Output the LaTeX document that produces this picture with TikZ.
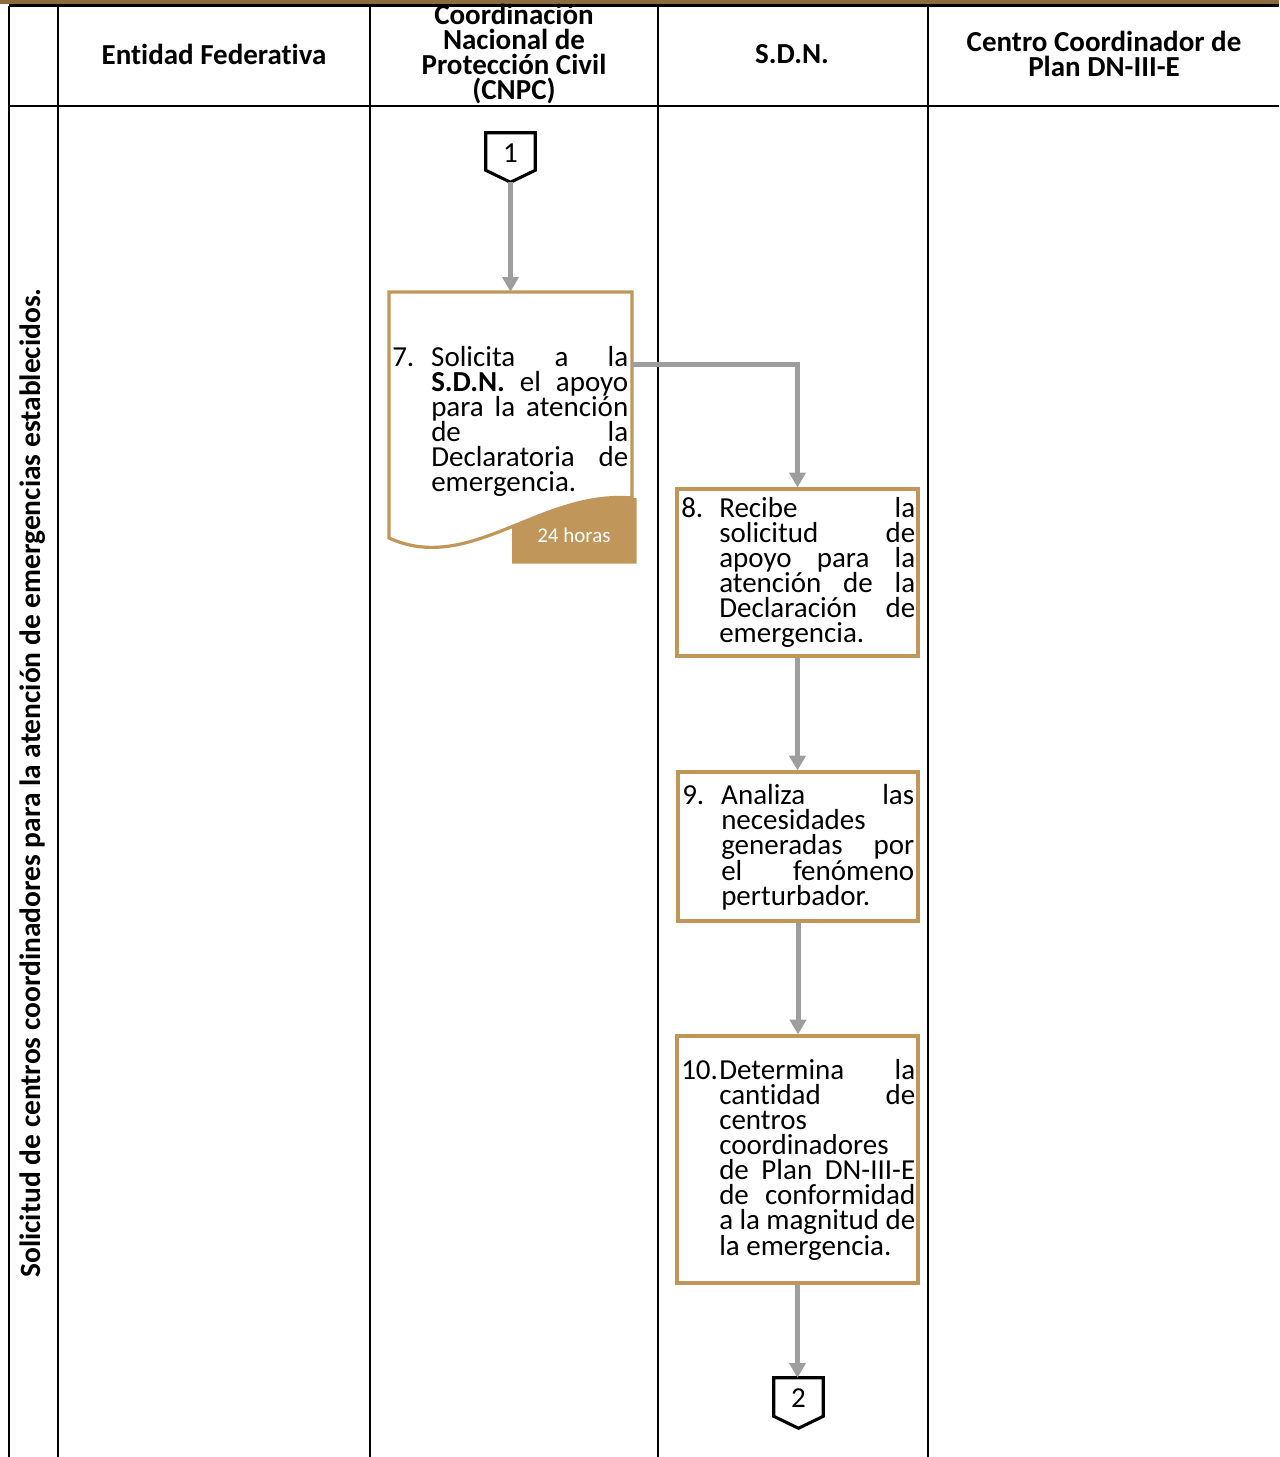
\documentclass[tikz,border=0pt]{standalone}
\usepackage{fontspec}
\setmainfont{Carlito}[Ligatures=NoCommon]
\usetikzlibrary{arrows.meta,calc}
\definecolor{boxtan}{RGB}{192,150,90}
\definecolor{barbrown}{RGB}{140,107,66}
\definecolor{linkgray}{RGB}{158,158,158}
\newcommand{\bodyfont}{\fontsize{21.75pt}{18.75pt}\selectfont}
\newcommand{\stepitem}[4]{\parbox[t]{#1}{\hyphenpenalty=10000\tolerance=10000\hbadness=10000\hfuzz=3pt\hangindent=#2\hangafter=1\noindent\makebox[#2][l]{#3}#4}}
\begin{document}
\begin{tikzpicture}[x=0.75pt,y=-0.75pt,
  lane/.style={line width=2pt,draw=black},
  procbox/.style={draw=boxtan,line width=2.4pt,fill=white,inner sep=0pt},
  ghost/.style={inner sep=0pt},
  flow/.style={draw=linkgray,line width=3.75pt,-{Triangle[length=11pt,width=12pt]}},
  offpage/.style={draw=black,line width=2.3pt,fill=white,line join=miter},
  head/.style={font=\bfseries\fontsize{21.75pt}{18.75pt}\selectfont,align=center,inner sep=0pt},
  steptext/.style={anchor=base west,inner sep=0pt,font=\bodyfont}]
\useasboundingbox (0,0) rectangle (1279,1457);
% top band and lane grid
\fill[barbrown] (0,0) rectangle (1279,4);
\draw[lane] (9,5.5) -- (1279,5.5);
\draw[lane] (9,106) -- (1279,106);
\foreach \xx in {9,58,370,658,928} \draw[lane] (\xx,5.5) -- (\xx,1457);
% headers
\node[head] (h1) at (214,54) {Entidad Federativa};
\node[head] (h2) at (514,54) {Coordinación\\Nacional de\\Protección Civil\\(CNPC)};
\node[head] (h3) at (792,54) {S.D.N.};
\node[head] (h4) at (1104,54) {Centro Coordinador de\\Plan DN-III-E};
\node[head,rotate=90,font=\bfseries\fontsize{22.1pt}{24pt}\selectfont] (lanelabel) at (33,783) {Solicitud de centros coordinadores para la atención de emergencias establecidos.};
% off-page connector 1
\node[ghost,minimum width=36.75pt,minimum height=27.75pt,font=\bodyfont] (c1) at (510.5,151.5) {};
\draw[offpage] (c1.north west) -- (c1.north east) -- (c1.south east) -- ($(c1.south)+(0,12)$) -- (c1.south west) -- cycle;
\node[ghost,font=\bodyfont] (c1t) at (510.5,153) {1};
\coordinate (c1tip) at ($(c1.south)+(0,12)$);
% step 7 (document shape)
\node[ghost,minimum width=182.25pt,minimum height=186pt] (b7) at (510.5,416) {};
\draw[draw=boxtan,line width=2.4pt,fill=white] (632,498) -- (632,292) -- (389,292) -- (389,538) .. controls (470,575) and (540,490) .. (632,498);
\begin{scope}
\clip (512,470) rectangle (640,570);
\fill[boxtan] (389,538) .. controls (470,575) and (540,490) .. (632,498) -- (636.5,498) -- (636.5,563.5) -- (389,563.5) -- cycle;
\end{scope}
\node[ghost,text=white,font=\fontsize{15.75pt}{18pt}\selectfont] (hrs) at (574,535) {24 horas};
\node[steptext] (t7) at (392,366) {\stepitem{177pt}{29.25pt}{7.}{Solicita a la\linebreak \textbf{S.D.N.} el apoyo\linebreak para la atención\linebreak de la\linebreak Declaratoria de\linebreak emergencia.}};
% step 8
\node[procbox,minimum width=180.75pt,minimum height=125.25pt] (b8) at (797.5,572.5) {};
\node[steptext] (t8) at (681,517) {\stepitem{175.5pt}{28.5pt}{8.}{Recibe la\linebreak solicitud de\linebreak apoyo para la\linebreak atención de la\linebreak Declaración de\linebreak emergencia.}};
% step 9
\node[procbox,minimum width=180pt,minimum height=111.75pt] (b9) at (798,846.5) {};
\node[steptext] (t9) at (682,804) {\stepitem{174pt}{29.25pt}{9.}{Analiza las\linebreak necesidades\linebreak generadas por\linebreak el fenómeno\linebreak perturbador.}};
% step 10
\node[procbox,minimum width=180.75pt,minimum height=185.25pt] (b10) at (797.5,1159.5) {};
\node[steptext] (t10) at (681,1079) {\stepitem{175.5pt}{28.5pt}{10.}{Determina la\linebreak cantidad de\linebreak centros\linebreak coordinadores\linebreak de Plan DN-III-E\linebreak de conformidad\linebreak a la magnitud de\linebreak la emergencia.}};
% off-page connector 2
\node[ghost,minimum width=36.75pt,minimum height=28.5pt] (c2) at (798.5,1397) {};
\draw[offpage] (c2.north west) -- (c2.north east) -- (c2.south east) -- ($(c2.south)+(0,12)$) -- (c2.south west) -- cycle;
\node[ghost,font=\bodyfont] (c2t) at (798.5,1398) {2};
% flows
\draw[flow] (c1tip) -- (b7.north);
\draw[flow] ([yshift=-54.75pt]b7.north east) -| (b8.north);
\draw[flow] (b8.south) -- (b8.south |- b9.north);
\draw[flow] (b9.south) -- (b9.south |- b10.north);
\draw[flow] (b10.south) -- (b10.south |- c2.north);
\end{tikzpicture}
\end{document}
